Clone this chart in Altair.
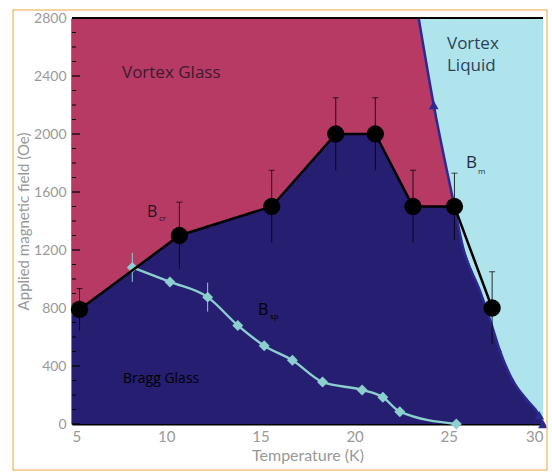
import altair as alt
import pandas as pd

# B_cr : black circles with error bars
cr_T = [5.4, 10.7, 15.6, 19.0, 21.1, 23.1, 25.3, 27.3]
cr_B = [790, 1300, 1500, 2000, 2000, 1500, 1500, 800]
cr_err = [145, 230, 250, 250, 250, 250, 230, 250]

# lower line : light-blue diamonds
dp_T = [8.2, 10.2, 12.2, 13.8, 15.2, 16.7, 18.3, 20.4, 21.5, 22.4, 25.4]
dp_B = [1080, 980, 875, 680, 540, 440, 290, 235, 185, 85, 0]
dp_err = [100, 0, 100, 0, 0, 0, 0, 0, 0, 0, 0]

# B_m : melting line
m_T = [23.4, 24.2, 25.3, 25.75, 26.65, 27.2, 27.7, 28.4, 29.15, 29.8, 30.0]
m_B = [2800, 2200, 1500, 1220, 920, 715, 510, 300, 165, 60, 0]
m_mark = ["none", "big", "big", "none", "none", "none", "small", "small", "small", "big", "big"]

# left end of the Bragg-glass region boundary
edge_T = [5.0]
edge_B = [750]

y_major = [0, 400, 800, 1200, 1600, 2000, 2400, 2800]
y_minor = [v for v in range(0, 2900, 100) if v % 400 != 0]

PINK = "#B63A63"
NAVY = "#261E70"
SKY = "#AFE4EC"
TEAL = "#8CCFCF"
MBLUE = "#2A2A92"
FONT = "Lato"
LFONT = "Open Sans"

xs = alt.Scale(domain=[5, 30], nice=False, zero=False)
ys = alt.Scale(domain=[0, 2800], nice=False)
x_axis = alt.Axis(title="Temperature (K)", values=[5, 10, 15, 20, 25, 30], labelPadding=5,
                  titlePadding=3, titleFontSize=16, labelFontSize=15)
y_axis = alt.Axis(title="Applied magnetic field (Oe)", values=y_major, format="d",
                  labelPadding=6, titlePadding=2, titleFontSize=15, labelFontSize=14)


def X(f="T"):
    return alt.X(f"{f}:Q", scale=xs, axis=x_axis)


def Y(f="B"):
    return alt.Y(f"{f}:Q", scale=ys, axis=y_axis)


cr = pd.DataFrame({"T": cr_T, "B": cr_B, "err": cr_err})
cr["lo"] = cr["B"] - cr["err"]
cr["hi"] = cr["B"] + cr["err"]

dp = pd.DataFrame({"T": dp_T, "B": dp_B, "err": dp_err})
dp["lo"] = dp["B"] - dp["err"]
dp["hi"] = dp["B"] + dp["err"]
dp_e = dp[dp["err"] > 0]

m = pd.DataFrame({"T": m_T, "B": m_B, "mark": m_mark})

# vortex-glass region: left of the melting line
pink = pd.DataFrame({"T": [5.0] + m_T, "B": [2800] + m_B})
# Bragg-glass region: under B_cr up to the melting line, then under B_m
last = cr_T.index(25.3)
navy_T = edge_T + cr_T[: last + 1] + [t for t in m_T if t > 25.3]
navy_B = edge_B + cr_B[: last + 1] + [b for t, b in zip(m_T, m_B) if t > 25.3]
navy = pd.DataFrame({"T": navy_T, "B": navy_B})

one = pd.DataFrame({"k": [0]})

sky_bg = alt.Chart(one).mark_rect(color=SKY).encode(
    x=alt.value(0), x2=alt.value(471), y=alt.value(0), y2=alt.value(406))

pink_area = alt.Chart(pink).mark_area(color=PINK, opacity=1).encode(
    x=X(), y=Y(), y2=alt.datum(0))
navy_area = alt.Chart(navy).mark_area(color=NAVY, opacity=1).encode(
    x=X(), y=Y(), y2=alt.datum(0))

m_line = alt.Chart(m).mark_line(color=MBLUE, strokeWidth=2.5, interpolate="monotone").encode(
    x=X(), y=Y())
m_big = alt.Chart(m[m["mark"] == "big"]).mark_point(
    shape="triangle-up", filled=True, color=MBLUE, size=95, opacity=1).encode(x=X(), y=Y())
m_small = alt.Chart(m[m["mark"] == "small"]).mark_point(
    shape="triangle-up", filled=True, color=MBLUE, size=25, opacity=1).encode(x=X(), y=Y())

cr_line = alt.Chart(cr).mark_line(color="black", strokeWidth=2.5).encode(x=X(), y=Y())
cr_bars = alt.Chart(cr).mark_rule(color="black", strokeWidth=1, opacity=0.8).encode(
    x=X(), y=Y("lo"), y2="hi:Q")
cr_caps = alt.Chart(cr).mark_tick(color="black", orient="horizontal", size=6, thickness=1).encode(
    x=X(), y=Y("hi"))
cr_pts = alt.Chart(cr).mark_circle(color="black", size=300, opacity=1).encode(x=X(), y=Y())

dp_line = alt.Chart(dp).mark_line(color=TEAL, strokeWidth=2.4, interpolate="monotone").encode(
    x=X(), y=Y())
dp_bars = alt.Chart(dp_e).mark_rule(color=TEAL, strokeWidth=1).encode(
    x=X(), y=Y("lo"), y2="hi:Q")
dp_pts = alt.Chart(dp).mark_point(shape="diamond", filled=True, color=TEAL, size=120, opacity=1).encode(
    x=X(), y=Y())

major_ticks = alt.Chart(pd.DataFrame({"v": y_major})).mark_rule(color="black", strokeWidth=1.2).encode(
    y=Y("v"), x=alt.value(0), x2=alt.value(8))
minor_ticks = alt.Chart(pd.DataFrame({"v": y_minor})).mark_rule(color="black", strokeWidth=1).encode(
    y=Y("v"), x=alt.value(0), x2=alt.value(4))

top_rule = alt.Chart(one).mark_rule(color="black", strokeWidth=2).encode(
    x=alt.value(0), x2=alt.value(471), y=alt.value(0))

frame = alt.Chart(one).mark_rect(fillOpacity=0, stroke="#F2C27E", strokeWidth=1.5).encode(
    x=alt.value(-59), x2=alt.value(475), y=alt.value(-8), y2=alt.value(452))


def label(txt, x, y, color, size=14, align="left"):
    return alt.Chart(pd.DataFrame({"t": [txt]})).mark_text(
        align=align, baseline="middle", font=LFONT, fontSize=size, fill=color
    ).encode(x=alt.value(x), y=alt.value(y), text="t:N")


labels = [
    label("Vortex Glass", 50, 55, "#3B1B30", 17),
    label("Vortex", 375, 26, "#2B4258", 17),
    label("Liquid", 375, 48, "#2B4258", 17),
    label("B", 75, 194, "#2A1020", 16),
    label("cr", 87, 201, "#2A1020", 8),
    label("B", 394, 145, "#1F2A40", 17),
    label("m", 406, 154, "#1F2A40", 8),
    label("B", 186, 292, "black", 16),
    label("sp", 198, 299, "black", 8),
    label("Bragg Glass", 51, 361, "black", 14),
]

chart = alt.layer(
    sky_bg, pink_area, navy_area, m_line, m_small, m_big,
    dp_line, dp_bars, dp_pts,
    cr_line, cr_bars, cr_caps, cr_pts,
    major_ticks, minor_ticks, top_rule, frame, *labels,
).properties(
    width=471, height=406,
    autosize=alt.AutoSizeParams(type="none"),
    padding={"left": 72, "top": 18, "right": 9, "bottom": 48},
    background="white",
).configure_view(stroke=None).configure_axis(
    grid=False, ticks=False, domainColor="black", domainWidth=2,
    labelColor="#999999", labelFont=FONT,
    titleColor="#999999", titleFont=FONT, titleFontWeight="normal",
)

chart.save("out.html", embed_options={"renderer": "svg", "actions": False})
